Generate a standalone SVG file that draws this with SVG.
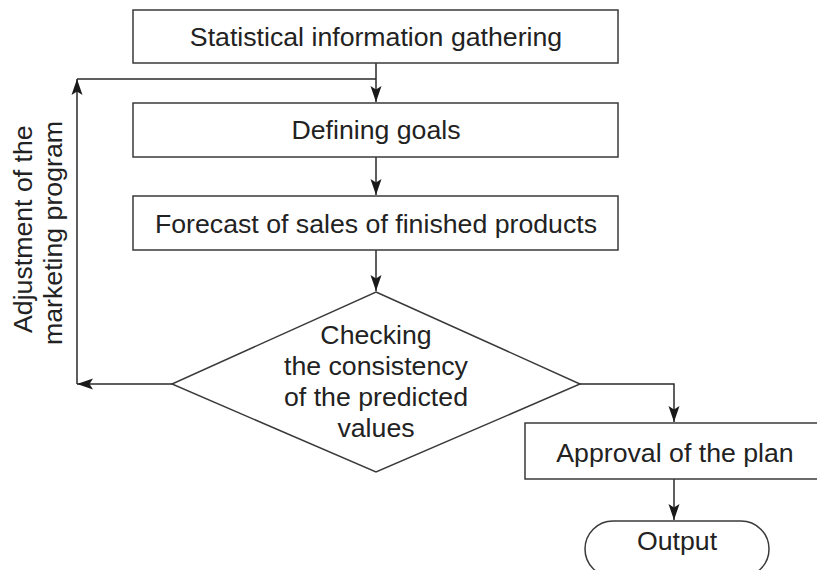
<svg xmlns="http://www.w3.org/2000/svg" width="817" height="570" viewBox="0 0 817 570">
  <style>
    .box { fill: #ffffff; stroke: #3a3a3a; stroke-width: 1.5; }
    .lbl { font-family: "Liberation Sans", Arial, sans-serif; font-size: 26.7px; fill: #222222; }
    .mid { text-anchor: middle; }
    .conn { fill: none; stroke: #2a2a2a; stroke-width: 1.5; }
  </style>
  <defs>
    <marker id="arrow" markerUnits="userSpaceOnUse" markerWidth="17" markerHeight="12" viewBox="0 0 17 12" refX="16" refY="6" orient="auto">
      <path d="M0,0.5 L16,6 L0,11.5 L3.5,6 Z" fill="#1a1a1a"/>
    </marker>
  </defs>
  <rect width="817" height="570" fill="#ffffff"/>

  <g id="connectors">
    <path class="conn" d="M376,63 V102" marker-end="url(#arrow)"/>
    <path class="conn" d="M77,79 H376"/>
    <path class="conn" d="M376,157 V195" marker-end="url(#arrow)"/>
    <path class="conn" d="M376,250 V291" marker-end="url(#arrow)"/>
    <path class="conn" d="M172,384 H77" marker-end="url(#arrow)"/>
    <path class="conn" d="M77,384 V79" marker-end="url(#arrow)"/>
    <path class="conn" d="M580,384 H674 V422" marker-end="url(#arrow)"/>
    <path class="conn" d="M674,479 V520" marker-end="url(#arrow)"/>
  </g>

  <g id="stats">
    <rect class="box" x="133" y="10" width="485" height="53"/>
    <text class="lbl mid" x="376" y="46">Statistical information gathering</text>
  </g>

  <g id="goals">
    <rect class="box" x="133" y="103" width="485" height="54"/>
    <text class="lbl mid" x="376" y="139">Defining goals</text>
  </g>

  <g id="forecast">
    <rect class="box" x="133" y="196" width="485" height="54"/>
    <text class="lbl mid" x="376" y="233">Forecast of sales of finished products</text>
  </g>

  <g id="check">
    <polygon class="box" points="376,292 580,384 376,472 172,384"/>
    <text class="lbl mid" x="376" y="344">Checking</text>
    <text class="lbl mid" x="376" y="375">the consistency</text>
    <text class="lbl mid" x="376" y="406">of the predicted</text>
    <text class="lbl mid" x="376" y="437">values</text>
  </g>

  <g id="adjust-label">
    <text class="lbl" transform="translate(32,333) rotate(-90)">Adjustment of the</text>
    <text class="lbl" transform="translate(62,345) rotate(-90)">marketing program</text>
  </g>

  <g id="approval">
    <rect class="box" x="525" y="423" width="298" height="56"/>
    <text class="lbl mid" x="675" y="462">Approval of the plan</text>
  </g>

  <g id="output">
    <rect class="box" x="585" y="521" width="184" height="56" rx="28" ry="28"/>
    <text class="lbl mid" x="677" y="550">Output</text>
  </g>
</svg>
